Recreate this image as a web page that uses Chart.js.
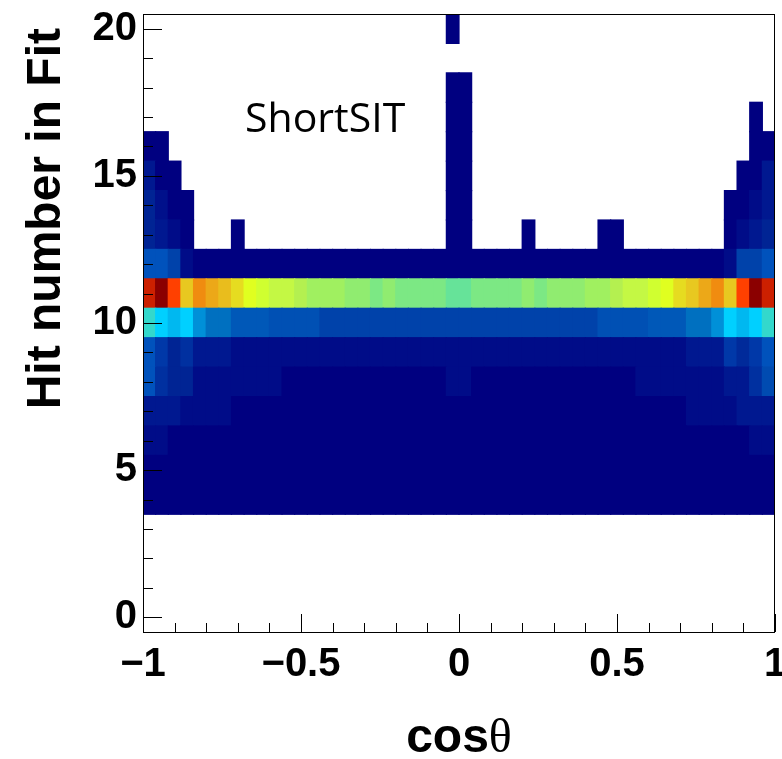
<!DOCTYPE html>
<html>
<head>
<meta charset="utf-8">
<script src="https://cdn.jsdelivr.net/npm/chart.js@4.4.1/dist/chart.umd.min.js"></script>
<style>
  html, body { margin: 0; padding: 0; background: #fff; }
  canvas { display: block; }
</style>
</head>
<body>
<canvas id="HitsVsCosChart" width="782" height="759"></canvas>
<script>
// cos(theta) bin centres, 50 bins of 0.04
var cos_theta = [-0.98,-0.94,-0.90,-0.86,-0.82,-0.78,-0.74,-0.70,-0.66,-0.62,
                 -0.58,-0.54,-0.50,-0.46,-0.42,-0.38,-0.34,-0.30,-0.26,-0.22,
                 -0.18,-0.14,-0.10,-0.06,-0.02, 0.02, 0.06, 0.10, 0.14, 0.18,
                  0.22, 0.26, 0.30, 0.34, 0.38, 0.42, 0.46, 0.50, 0.54, 0.58,
                  0.62, 0.66, 0.70, 0.74, 0.78, 0.82, 0.86, 0.90, 0.94, 0.98];
var hit_numbers = [4,5,6,7,8,9,10,11,12,13,14,15,16,17,18,19,20];

// relative bin content (0 = empty, 100 = max) per hit number
var hits_4  = [1,1,1,1,1,1,1,1,1,1, 1,1,1,1,1,1,1,1,1,1, 1,1,1,1,1,1,1,1,1,1, 1,1,1,1,1,1,1,1,1,1, 1,1,1,1,1,1,1,1,1,1];
var hits_5  = [1,1,1,1,1,1,1,1,1,1, 1,1,1,1,1,1,1,1,1,1, 1,1,1,1,1,1,1,1,1,1, 1,1,1,1,1,1,1,1,1,1, 1,1,1,1,1,1,1,1,1,1];
var hits_6  = [4,4,1,1,1,1,1,1,1,1, 1,1,1,1,1,1,1,1,1,1, 1,1,1,1,1,1,1,1,1,1, 1,1,1,1,1,1,1,1,1,1, 1,1,1,1,1,1,1,1,4,4];
var hits_7  = [7,7,7,4,4,4,4,1,1,1, 1,1,1,1,1,1,1,1,1,1, 1,1,1,1,1,1,1,1,1,1, 1,1,1,1,1,1,1,1,1,1, 1,1,1,4,4,4,4,7,7,7];
var hits_8  = [20,12,10,10,4,4,4,4,4,4, 4,1,1,1,1,1,1,1,1,1, 1,1,1,1,4,4,1,1,1,1, 1,1,1,1,1,1,1,1,1,4, 4,4,4,4,4,4,7,7,12,18];
var hits_9  = [20,14,10,12,7,7,7,4,4,4, 4,4,4,4,4,4,4,4,4,4, 4,4,4,4,4,4,4,4,4,4, 4,4,4,4,4,4,4,4,4,4, 4,4,4,7,7,7,14,11,14,20];
var hits_10 = [45,41,38,41,33,27,27,22,22,22, 19,19,19,19,16,16,16,16,16,16, 16,16,16,16,16,16,16,16,16,16, 16,16,16,16,16,16,19,19,19,19, 22,22,22,27,27,33,41,38,41,45];
var hits_11 = [95,100,90,78,84,81,79,76,73,70, 67,67,64,61,61,61,57,57,54,57, 54,54,54,54,50,50,54,54,54,54, 57,54,57,57,57,61,61,64,67,67, 70,73,76,78,81,84,78,90,100,95];
var hits_12 = [20,20,16,4,1,1,1,1,1,1, 1,1,1,1,1,1,1,1,1,1, 1,1,1,1,1,1,1,1,1,1, 1,1,1,1,1,1,1,1,1,1, 1,1,1,1,1,1,4,16,16,20];
var hits_13 = [10,7,4,1,0,0,0,1,0,0, 0,0,0,0,0,0,0,0,0,0, 0,0,0,0,1,1,0,0,0,0, 1,0,0,0,0,0,1,1,0,0, 0,0,0,0,0,0,1,4,7,10];
var hits_14 = [10,5,1,1,0,0,0,0,0,0, 0,0,0,0,0,0,0,0,0,0, 0,0,0,0,1,1,0,0,0,0, 0,0,0,0,0,0,0,0,0,0, 0,0,0,0,0,0,1,1,4,7];
var hits_15 = [7,1,1,0,0,0,0,0,0,0, 0,0,0,0,0,0,0,0,0,0, 0,0,0,0,1,1,0,0,0,0, 0,0,0,0,0,0,0,0,0,0, 0,0,0,0,0,0,0,1,1,7];
var hits_16 = [1,1,0,0,0,0,0,0,0,0, 0,0,0,0,0,0,0,0,0,0, 0,0,0,0,1,1,0,0,0,0, 0,0,0,0,0,0,0,0,0,0, 0,0,0,0,0,0,0,0,1,1];
var hits_17 = [0,0,0,0,0,0,0,0,0,0, 0,0,0,0,0,0,0,0,0,0, 0,0,0,0,1,1,0,0,0,0, 0,0,0,0,0,0,0,0,0,0, 0,0,0,0,0,0,0,0,1,0];
var hits_18 = [0,0,0,0,0,0,0,0,0,0, 0,0,0,0,0,0,0,0,0,0, 0,0,0,0,1,1,0,0,0,0, 0,0,0,0,0,0,0,0,0,0, 0,0,0,0,0,0,0,0,0,0];
var hits_19 = [0,0,0,0,0,0,0,0,0,0, 0,0,0,0,0,0,0,0,0,0, 0,0,0,0,0,0,0,0,0,0, 0,0,0,0,0,0,0,0,0,0, 0,0,0,0,0,0,0,0,0,0];
var hits_20 = [0,0,0,0,0,0,0,0,0,0, 0,0,0,0,0,0,0,0,0,0, 0,0,0,0,1,0,0,0,0,0, 0,0,0,0,0,0,0,0,0,0, 0,0,0,0,0,0,0,0,0,0];
var z_rows = [hits_4,hits_5,hits_6,hits_7,hits_8,hits_9,hits_10,hits_11,hits_12,
              hits_13,hits_14,hits_15,hits_16,hits_17,hits_18,hits_19,hits_20];

var y_tick_labels = [0, 5, 10, 15, 20];
var y_minor_ticks = [0,1,2,3,4,5,6,7,8,9,10,11,12,13,14,15,16,17,18,19,20];
var x_tick_labels = [-1, -0.5, 0, 0.5, 1];
var x_minor_ticks = [-1,-0.9,-0.8,-0.7,-0.6,-0.5,-0.4,-0.3,-0.2,-0.1,0,0.1,0.2,0.3,0.4,0.5,0.6,0.7,0.8,0.9,1];

// colour palette (z -> colour), ROOT-like rainbow
var palette = [[0,'#000080'],[1,'#000080'],[4,'#000c88'],[7,'#001890'],[10,'#002494'],[12,'#0030a0'],
  [14,'#0038a8'],[16,'#0042aa'],[19,'#0050b4'],[20,'#0052bc'],[22,'#0058b8'],[27,'#0070c0'],
  [33,'#0090d8'],[38,'#00b8f0'],[41,'#00d0ff'],[45,'#33d8cc'],[50,'#66e399'],[54,'#7ce884'],
  [57,'#90ec70'],[61,'#a0f060'],[64,'#b4f050'],[67,'#c4f844'],[70,'#d0ff30'],[73,'#e0ff20'],
  [76,'#e6dc20'],[78,'#e8c820'],[81,'#eca818'],[84,'#f08c10'],[90,'#ff4000'],[95,'#cc2000'],[100,'#8b0000']];

function hex_rgb(h){ return [parseInt(h.substr(1,2),16), parseInt(h.substr(3,2),16), parseInt(h.substr(5,2),16)]; }
function z_color(z){
  for (var i = 1; i < palette.length; i++){
    if (z <= palette[i][0]){
      var a = palette[i-1], b = palette[i];
      var t = (z - a[0]) / (b[0] - a[0] || 1);
      var ca = hex_rgb(a[1]), cb = hex_rgb(b[1]);
      return 'rgb(' + ca.map((v, k) => Math.round(v + (cb[k] - v) * t)).join(',') + ')';
    }
  }
  return palette[palette.length-1][1];
}

var datasets = [];
hit_numbers.forEach((h, r) => {
  var pts = [];
  z_rows[r].forEach((z, i) => { if (z > 0) pts.push({x: cos_theta[i], y: [h - 0.5, h + 0.5], z: z}); });
  datasets.push({
    data: pts,
    backgroundColor: c => (c.raw ? z_color(c.raw.z) : '#000080'),
    borderWidth: 0,
    inflateAmount: 0.6,
    grouped: false,
    barPercentage: 1,
    categoryPercentage: 1
  });
});

var tick_font = {family: '"Liberation Sans", Arial, sans-serif', size: 40, weight: 'bold'};

var frame_plugin = {
  id: 'frame',
  afterDraw(chart){
    var c = chart.ctx, a = chart.chartArea, xs = chart.scales.x, ys = chart.scales.y;
    c.save();
    c.strokeStyle = '#000'; c.lineWidth = 1;
    c.beginPath();
    y_minor_ticks.forEach(v => {
      var p = Math.round(ys.getPixelForValue(v)) + 0.5;
      var len = y_tick_labels.includes(v) ? 19 : 10;
      c.moveTo(a.left, p); c.lineTo(a.left + len, p);
    });
    x_minor_ticks.forEach(v => {
      var p = Math.round(xs.getPixelForValue(v)) + 0.5;
      var len = x_tick_labels.includes(v) ? 18 : 9;
      c.moveTo(p, a.bottom); c.lineTo(p, a.bottom - len);
    });
    c.stroke();
    c.strokeRect(Math.round(a.left) + 0.5, Math.round(a.top) + 0.5, Math.round(a.right - a.left) - 1, Math.round(a.bottom - a.top));

    c.fillStyle = '#000';
    // annotation
    c.font = '41px "Open Sans", sans-serif';
    c.textAlign = 'left'; c.textBaseline = 'alphabetic';
    c.fillText('ShortSIT', xs.getPixelForValue(-0.677), ys.getPixelForValue(16.5));

    // y title
    c.save();
    c.translate(60, 28);
    c.rotate(-Math.PI / 2);
    c.font = 'bold 48px "Liberation Sans", Arial, sans-serif';
    c.textAlign = 'right';
    c.fillText('Hit number in Fit', 0, 0);
    c.restore();

    // x title: cos + theta
    c.font = 'bold 48px "Liberation Sans", Arial, sans-serif';
    var w1 = c.measureText('cos').width;
    c.font = '48px "Liberation Serif", serif';
    var w2 = c.measureText('\u03b8').width;
    var x0 = (a.left + a.right) / 2 - (w1 + w2) / 2;
    c.textAlign = 'left';
    c.font = 'bold 48px "Liberation Sans", Arial, sans-serif';
    c.fillText('cos', x0, 752);
    c.font = '48px "Liberation Serif", serif';
    c.fillText('\u03b8', x0 + w1, 752);
    c.restore();
  }
};

var ctx = document.getElementById('HitsVsCosChart');
var myChart = new Chart(ctx, {
  type: 'bar',
  data: { datasets: datasets },
  options: {
    responsive: false,
    animation: false,
    layout: { padding: { top: 14, right: 7, left: 0, bottom: 0 } },
    plugins: { legend: { display: false }, tooltip: { enabled: false } },
    scales: {
      x: {
        type: 'linear', min: -1, max: 1, offset: false,
        grid: { display: false, drawTicks: false }, border: { display: false },
        afterBuildTicks: s => { s.ticks = x_tick_labels.map(v => ({value: v})); },
        afterFit: s => { s.height = 127; s.paddingLeft = 0; s.paddingRight = 0; },
        ticks: {
          font: tick_font, color: '#000', padding: 9, maxRotation: 0, autoSkip: false,
          callback: v => (v < 0 ? '\u2212' + Math.abs(v) : String(v))
        }
      },
      y: {
        type: 'linear', min: -0.5, max: 20.5,
        grid: { display: false, drawTicks: false }, border: { display: false },
        afterBuildTicks: s => { s.ticks = y_tick_labels.map(v => ({value: v})); },
        afterFit: s => { s.width = 143; s.paddingTop = 0; s.paddingBottom = 0; },
        ticks: { font: tick_font, color: '#000', padding: 6, autoSkip: false }
      }
    }
  },
  plugins: [frame_plugin]
});
</script>
</body>
</html>
